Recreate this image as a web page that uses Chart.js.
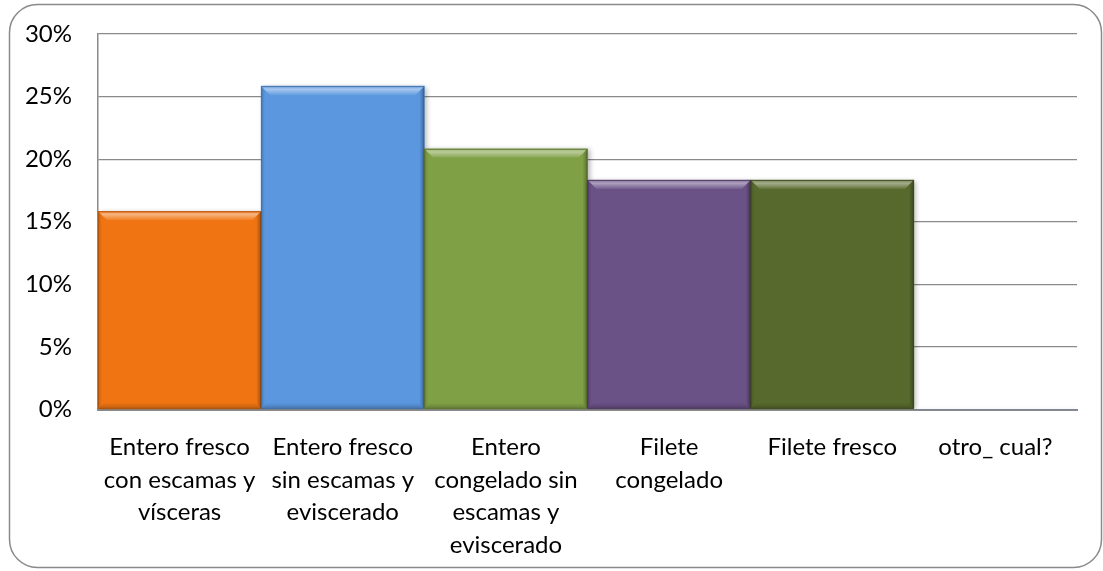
<!DOCTYPE html>
<html>
<head>
<meta charset="utf-8">
<script src="https://cdn.jsdelivr.net/npm/chart.js@4/dist/chart.umd.min.js"></script>
<style>
  html, body { margin: 0; padding: 0; background: #ffffff; }
  #wrap { position: relative; width: 1103px; height: 571px; }
  canvas { display: block; }
</style>
</head>
<body>
<div id="wrap"><canvas id="c" width="1103" height="571"></canvas></div>
<script>
// Categories (multi-line labels) and percentages
const categories = [
  ["Entero fresco", "con escamas y", "vísceras"],
  ["Entero fresco", "sin escamas y", "eviscerado"],
  ["Entero", "congelado sin", "escamas y", "eviscerado"],
  ["Filete", "congelado"],
  ["Filete fresco"],
  ["otro_ cual?"]
];
const percentages = [15.83, 25.83, 20.83, 18.33, 18.33, 0];
const barColors = ["#F07412", "#5A97DF", "#80A046", "#6A5186", "#58692D", "#4F81BD"];
const yTicks = [0, 5, 10, 15, 20, 25, 30];

const FONT = "Lato, 'Open Sans', sans-serif";

// Soft drop shadow under the bars
const barShadow = {
  id: 'barShadow',
  beforeDatasetsDraw(chart) {
    const ctx = chart.ctx;
    ctx.save();
    ctx.shadowColor = 'rgba(0,0,0,0.30)';
    ctx.shadowBlur = 5;
    ctx.shadowOffsetX = 2;
    ctx.shadowOffsetY = 1;
  },
  afterDatasetsDraw(chart) {
    chart.ctx.restore();
  }
};

// Bevelled edges on each bar
const barBevel = {
  id: 'barBevel',
  afterDatasetsDraw(chart) {
    const ctx = chart.ctx;
    chart.getDatasetMeta(0).data.forEach(bar => {
      const p = bar.getProps(['x', 'y', 'base', 'width'], true);
      const l = p.x - p.width / 2, r = p.x + p.width / 2;
      const t = Math.min(p.y, p.base), b = Math.max(p.y, p.base);
      if (b - t < 2) return;
      const bv = Math.min(9, (b - t) / 2);
      ctx.save();
      // top
      let g = ctx.createLinearGradient(0, t, 0, t + bv);
      g.addColorStop(0, 'rgba(0,0,0,0.10)');
      g.addColorStop(0.15, 'rgba(255,255,255,0.30)');
      g.addColorStop(0.35, 'rgba(255,255,255,0.45)');
      g.addColorStop(1, 'rgba(255,255,255,0.06)');
      ctx.fillStyle = g;
      ctx.beginPath();
      ctx.moveTo(l, t); ctx.lineTo(r, t); ctx.lineTo(r - bv, t + bv); ctx.lineTo(l + bv, t + bv);
      ctx.closePath(); ctx.fill();
      // right
      g = ctx.createLinearGradient(r - 5, 0, r, 0);
      g.addColorStop(0, 'rgba(0,0,0,0)');
      g.addColorStop(1, 'rgba(0,0,0,0.30)');
      ctx.fillStyle = g;
      ctx.beginPath();
      ctx.moveTo(r, t); ctx.lineTo(r, b); ctx.lineTo(r - 5, b - 5); ctx.lineTo(r - 5, t + 5);
      ctx.closePath(); ctx.fill();
      // left
      g = ctx.createLinearGradient(l, 0, l + 4, 0);
      g.addColorStop(0, 'rgba(0,0,0,0.16)');
      g.addColorStop(1, 'rgba(0,0,0,0)');
      ctx.fillStyle = g;
      ctx.beginPath();
      ctx.moveTo(l, t); ctx.lineTo(l + 4, t + 4); ctx.lineTo(l + 4, b - 4); ctx.lineTo(l, b);
      ctx.closePath(); ctx.fill();
      // bottom
      g = ctx.createLinearGradient(0, b - 6, 0, b);
      g.addColorStop(0, 'rgba(0,0,0,0)');
      g.addColorStop(1, 'rgba(0,0,0,0.22)');
      ctx.fillStyle = g;
      ctx.beginPath();
      ctx.moveTo(l, b); ctx.lineTo(r, b); ctx.lineTo(r - 6, b - 6); ctx.lineTo(l + 6, b - 6);
      ctx.closePath(); ctx.fill();
      // outline
      ctx.strokeStyle = 'rgba(0,0,0,0.15)';
      ctx.lineWidth = 1;
      ctx.strokeRect(l + 0.5, t + 0.5, r - l - 1, b - t - 1);
      ctx.restore();
    });
  }
};

// Rounded frame around the whole chart
const chartFrame = {
  id: 'chartFrame',
  afterDraw(chart) {
    const ctx = chart.ctx;
    ctx.save();
    ctx.strokeStyle = '#8a8a8a';
    ctx.lineWidth = 1.5;
    ctx.beginPath();
    ctx.roundRect(9.5, 4.5, 1092, 563, 28);
    ctx.stroke();
    ctx.restore();
  }
};

new Chart(document.getElementById('c'), {
  type: 'bar',
  data: {
    labels: categories,
    datasets: [{
      data: percentages,
      backgroundColor: barColors,
      borderWidth: 0,
      barPercentage: 1,
      categoryPercentage: 1
    }]
  },
  options: {
    responsive: false,
    animation: false,
    devicePixelRatio: 1,
    layout: { padding: { left: 0, right: 26, top: 34, bottom: 0 } },
    plugins: { legend: { display: false }, tooltip: { enabled: false } },
    scales: {
      x: {
        grid: { display: false, drawTicks: false },
        border: { display: true, color: '#8a8a8a', width: 2 },
        ticks: {
          color: '#000',
          padding: 22,
          maxRotation: 0,
          autoSkip: false,
          font: { family: FONT, size: 24, lineHeight: 32.5 / 24 }
        },
        afterFit(scale) { scale.height = 161.5; }
      },
      y: {
        min: 0,
        max: 30,
        afterBuildTicks(scale) { scale.ticks = yTicks.map(v => ({ value: v })); },
        grid: { color: '#8a8a8a', lineWidth: 1.3, drawTicks: false },
        border: { display: true, color: '#8a8a8a', width: 1.5 },
        ticks: {
          color: '#000',
          padding: 26,
          font: { family: FONT, size: 24 },
          callback: v => v + '%'
        },
        afterFit(scale) {
          scale.width = 98;
          scale.paddingTop = 0;
          scale.paddingBottom = 0;
        }
      }
    }
  },
  plugins: [barShadow, barBevel, chartFrame]
});
</script>
</body>
</html>
